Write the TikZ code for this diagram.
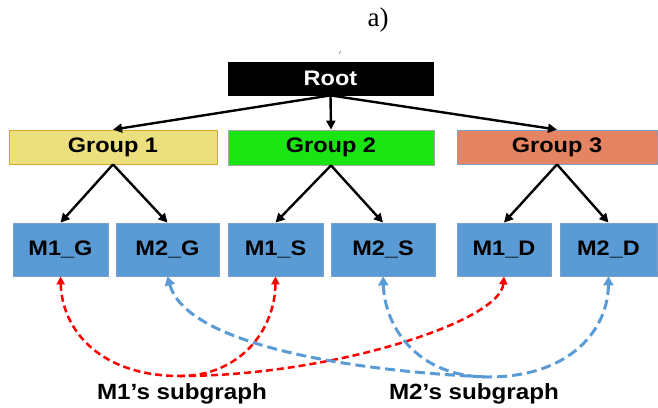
\documentclass[tikz,border=0pt]{standalone}
\usepackage{fontspec}
\setmainfont{Liberation Serif}
\newfontfamily\boxfont[FakeStretch=1.12]{Liberation Sans}
\newfontfamily\lblfont[FakeStretch=1.1]{Liberation Sans}
\usetikzlibrary{arrows.meta}
\definecolor{mblue}{RGB}{91,155,213}
\definecolor{mbord}{RGB}{120,160,200}
\definecolor{gyellow}{RGB}{236,224,126}
\definecolor{gyborder}{RGB}{214,168,40}
\definecolor{ggreen}{RGB}{26,228,18}
\definecolor{gsalmon}{RGB}{229,132,98}
\definecolor{ddred}{RGB}{255,0,0}
\tikzset{
  box/.style={draw, line width=0.8pt, inner sep=0pt, font=\boxfont\bfseries\fontsize{21}{24}\selectfont},
  mbox/.style={box, fill=mblue, draw=mbord, minimum height=53pt},
  gbox/.style={box, minimum height=34pt},
  treearrow/.style={-{Triangle[length=9pt,width=9pt]}, line width=2.4pt, black},
  redlink/.style={{Triangle[length=8pt,width=8pt]}-, line width=2.5pt, ddred, dash pattern=on 7pt off 4pt},
  bluelink/.style={line width=3pt, mblue, dash pattern=on 10pt off 5pt},
  sublabel/.style={font=\lblfont\bfseries\fontsize{22}{26}\selectfont, anchor=base}
}
\begin{document}
\begin{tikzpicture}[x=1pt,y=-1pt]
\useasboundingbox (0,0) rectangle (658,407);
\node[font=\fontsize{27}{30}\selectfont] (title) at (378,20) {a)};
\draw[gray, line width=0.6pt] (339,54) -- (341,51);
\node[box, fill=black, text=white, minimum width=205pt, minimum height=33pt] (root) at (330.5,78.5) {Root};
\node[gbox, fill=gyellow, draw=gyborder, minimum width=208pt] (g1) at (113,147) {Group 1};
\node[gbox, fill=ggreen, draw=gray!70, minimum width=206pt, minimum height=35pt] (g2) at (331,147.5) {Group 2};
\node[gbox, fill=gsalmon, draw=mbord, minimum width=200pt] (g3) at (557,147) {Group 3};
\node[mbox, minimum width=95pt] (m1g) at (60.5,249.5) {M1\_G};
\node[mbox, minimum width=103pt] (m2g) at (167.5,249.5) {M2\_G};
\node[mbox, minimum width=95pt] (m1s) at (275.5,249.5) {M1\_S};
\node[mbox, minimum width=104pt] (m2s) at (383,249.5) {M2\_S};
\node[mbox, minimum width=94pt] (m1d) at (504,249.5) {M1\_D};
\node[mbox, minimum width=97pt] (m2d) at (608.5,249.5) {M2\_D};
\draw[treearrow] (root.south) -- (g1.north);
\draw[treearrow] (root.south) -- (g2.north);
\draw[treearrow] (root.south) -- (g3.north);
\draw[treearrow] (g1.south) -- (m1g.north);
\draw[treearrow] (g1.south) -- (m2g.north);
\draw[treearrow] (g2.south) -- (m1s.north);
\draw[treearrow] (g2.south) -- (m2s.north);
\draw[treearrow] (g3.south) -- (m1d.north);
\draw[treearrow] (g3.south) -- (m2d.north);
\coordinate (h1) at (180,376);
\coordinate (h2) at (488,377);
\draw[redlink] (m1g.south) .. controls (62,330) and (100,376) .. (h1);
\draw[redlink] (m1s.south) .. controls (275,330) and (240,376) .. (h1);
\draw[redlink] (m1d.south) .. controls (500,322) and (330,376) .. (h1);
\draw[bluelink, {Triangle[length=9pt,width=10pt]}-] (m2g.south) .. controls (185,340) and (330,370) .. (h2);
\draw[bluelink, {Triangle[length=9pt,width=10pt]}-] (m2s.south) .. controls (385,330) and (420,377) .. (h2);
\draw[bluelink, {Triangle[length=9pt,width=10pt]}-] (m2d.south) .. controls (608,330) and (570,377) .. (h2);
\node[sublabel] (l1) at (182,399) {M1’s subgraph};
\node[sublabel] (l2) at (474,399) {M2’s subgraph};
\end{tikzpicture}
\end{document}
